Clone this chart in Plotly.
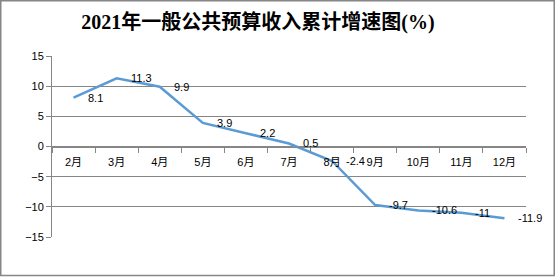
import plotly.graph_objects as go

months = ["2月", "3月", "4月", "5月", "6月", "7月", "8月", "9月", "10月", "11月", "12月"]
growth = [8.1, 11.3, 9.9, 3.9, 2.2, 0.5, -2.4, -9.7, -10.6, -11, -11.9]
labels = ["8.1", "11.3", "9.9", "3.9", "2.2", "0.5", "-2.4", "-9.7", "-10.6", "-11", "-11.9"]
title = "2021年一般公共预算收入累计增速图(%)"

W, H = 556, 278
ml, mr, mt, mb = 52, 30, 56, 41
pw, ph = W - ml - mr, H - mt - mb

fig = go.Figure()
fig.add_trace(go.Scatter(
    x=months, y=growth, mode="lines",
    line=dict(color="rgb(91,155,213)", width=2.5),
    showlegend=False, hoverinfo="skip",
))

annotations = [
    dict(x=m, y=v, text=t, xref="x", yref="y", showarrow=False,
         xanchor="left", yanchor="middle", xshift=12, yshift=0,
         font=dict(family="Liberation Sans, Noto Sans CJK SC", size=11, color="#000000"))
    for m, v, t in zip(months, growth, labels)
]

fig.update_layout(
    width=W, height=H,
    margin=dict(l=ml, r=mr, t=mt, b=mb),
    paper_bgcolor="white", plot_bgcolor="white",
    annotations=annotations,
    title=dict(text=title, x=(258 - ml) / pw, xref="paper", xanchor="center", y=1 - 22 / H, yanchor="middle",
               font=dict(family="Liberation Serif, Noto Sans CJK SC", size=20, color="#000000", weight="bold")),
    xaxis=dict(type="category", range=[-0.5, len(months) - 0.5], anchor="free", position=0.5,
               showline=True, linecolor="#868686", linewidth=1, showgrid=False, zeroline=False,
               ticks="outside", tickson="boundaries", ticklen=5, tickcolor="#868686",
               ticklabelstandoff=5,
               tickfont=dict(family="Liberation Sans, Noto Sans CJK SC", size=11, color="#000000")),
    yaxis=dict(range=[-15, 15], dtick=5, tick0=0, showgrid=True, gridcolor="#868686", gridwidth=1,
               showline=True, linecolor="#868686", linewidth=1, zeroline=False,
               ticks="outside", ticklen=5, tickcolor="#868686",
               tickfont=dict(family="Liberation Sans", size=11, color="#000000")),
    shapes=[dict(type="rect", xref="paper", yref="paper",
                 x0=(0.75 - ml) / pw, x1=(W - 1.75 - ml) / pw,
                 y0=-(H - 2.5 - mt - ph) / ph, y1=1 + (mt - 0.75) / ph,
                 line=dict(color="#868686", width=1.5), layer="above")],
)

fig.write_html("out.html")
